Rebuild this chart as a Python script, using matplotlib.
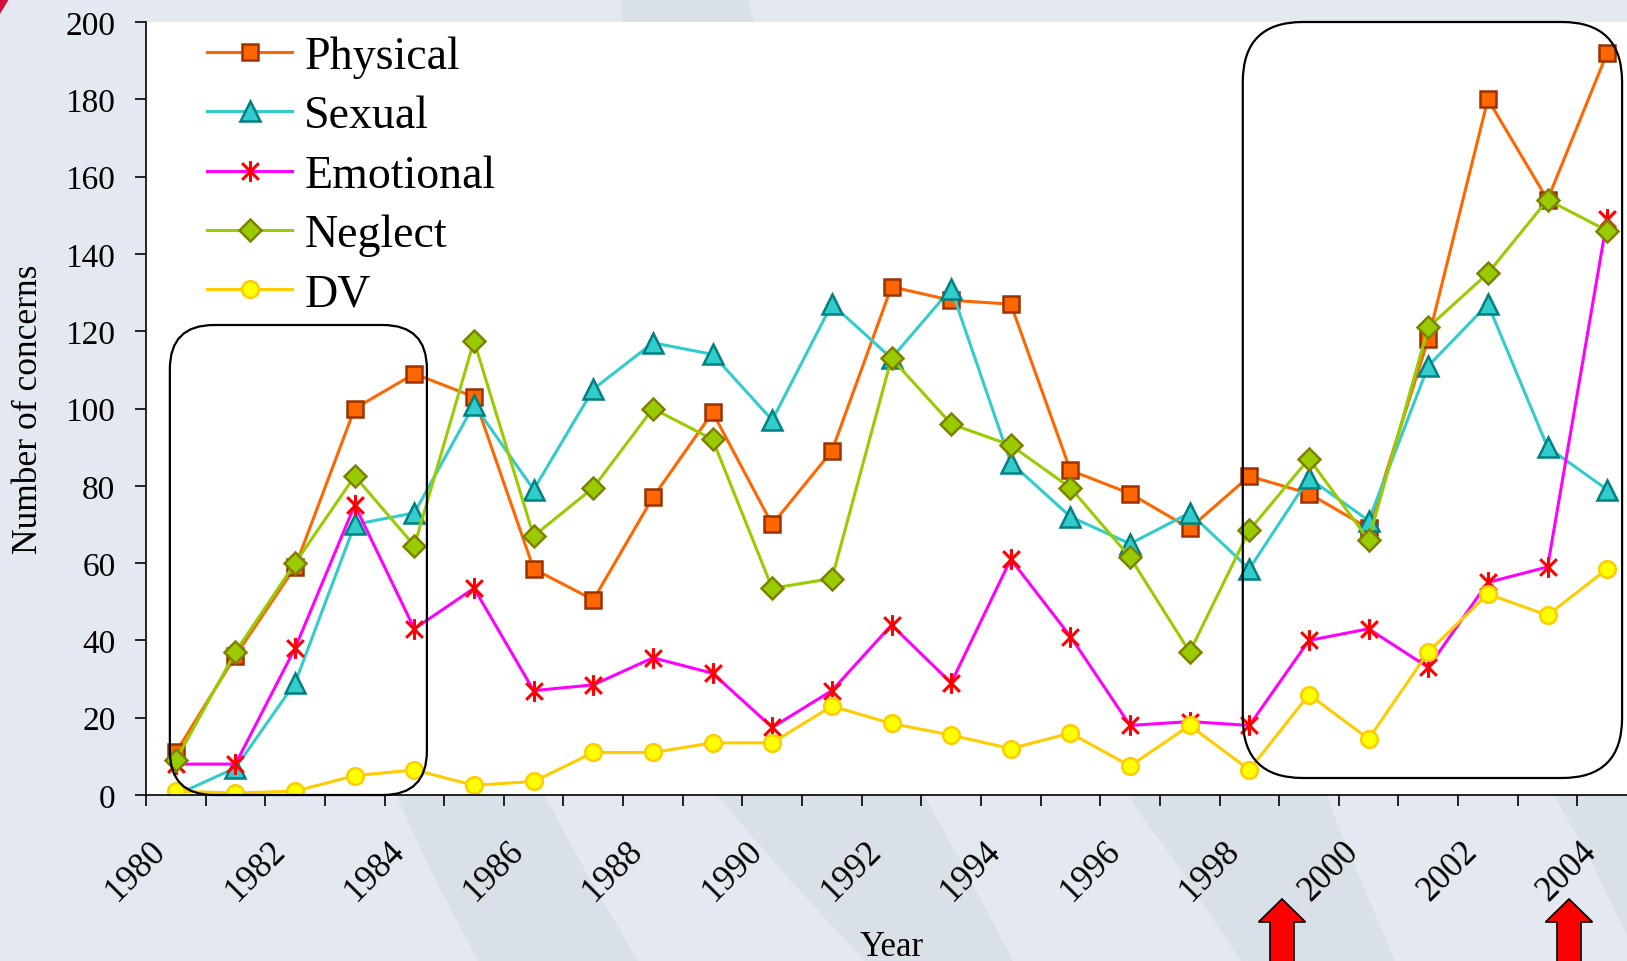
import numpy as np
import matplotlib
matplotlib.use("Agg")
import matplotlib.pyplot as plt
from matplotlib.path import Path
from matplotlib.patches import Polygon, FancyBboxPatch
from matplotlib.transforms import ScaledTranslation

# %%
# Data
years = list(range(1980, 2005))
physical = [11, 36, 59, 100, 109, 103, 58.5, 50.5, 77, 99, 70, 89, 131.5, 128, 127,
            84, 78, 69, 82.5, 78, 69, 118, 180, 154, 192]
sexual = [0, 7, 29, 70, 73, 101, 79, 105, 117, 114, 97, 127, 113, 131, 86,
          72, 65, 73, 58.5, 82, 71, 111, 127, 90, 79]
emotional = [8, 8, 38, 75, 43, 53.5, 27, 28.5, 35.5, 31.5, 17.5, 27, 44, 29, 61,
             41, 18, 19, 18, 40, 43, 33, 55, 59, 149]
neglect = [9, 37, 60, 82.5, 64.5, 117.5, 67, 79.5, 100, 92, 53.5, 56, 113, 96, 90.5,
           79.5, 61.5, 37, 68.5, 87, 66, 121, 135, 154, 146]
dv = [1, 0.5, 1, 5, 6.5, 2.5, 3.5, 11, 11, 13.5, 13.5, 23, 18.5, 15.5, 12,
      16, 7.5, 18, 6.5, 26, 14.5, 37, 52, 46.5, 58.5]

labels = ["Physical", "Sexual", "Emotional", "Neglect", "DV"]
yticks = list(range(0, 201, 20))

# %%
W, H = 1627, 962
plt.rcParams["font.family"] = ["Liberation Serif", "DejaVu Serif"]
fig = plt.figure(figsize=(W / 100, H / 100), dpi=100, facecolor="#e4e9f1")


def px(x, y):
    # pixel (from top-left) -> figure fraction
    return (x / W, 1 - y / H)


# background swooshes of the slide
band = "#d9e0e8"
for pts in [
    [(620, 0), (747, 0), (757, 30), (624, 30)],
    [(396, 796), (544, 796), (590, 880), (638, 962), (478, 962), (430, 870)],
    [(717, 796), (924, 796), (970, 880), (1013, 962), (865, 962), (780, 870)],
    [(1127, 796), (1326, 796), (1360, 880), (1395, 962), (1241, 962), (1180, 870)],
    [(1554, 796), (1627, 796), (1627, 937), (1590, 860)],
]:
    fig.add_artist(Polygon([px(*p) for p in pts], closed=True, transform=fig.transFigure,
                           facecolor=band, edgecolor="none", zorder=-10))
fig.add_artist(Polygon([px(0, 0), px(9, 0), px(0, 15)], closed=True, transform=fig.transFigure,
                       facecolor="#d0103a", edgecolor="none", zorder=-9))

ax = fig.add_axes([146 / W, (H - 796) / H, (1637 - 146) / W, (796 - 23) / H])
ax.set_facecolor("white")

x = np.arange(len(years))

# Excel-like star marker: X plus vertical bar
star = Path([(-1, -1), (1, 1), (-1, 1), (1, -1), (0, -1.25), (0, 1.25)],
            [Path.MOVETO, Path.LINETO, Path.MOVETO, Path.LINETO, Path.MOVETO, Path.LINETO])

lw = 2.2
ax.plot(x, physical, color="#ff6600", lw=lw, marker="s", ms=12, mfc="#ff6600",
        mec="#993300", mew=1.8, label=labels[0])
ax.plot(x, sexual, color="#33cccc", lw=lw, marker="^", ms=14, mfc="#33cccc",
        mec="#008080", mew=1.8, label=labels[1])
ax.plot(x, emotional, color="#ff00ff", lw=lw, marker=star, ms=15, mec="#ff0000",
        mew=2.2, label=labels[2])
ax.plot(x, neglect, color="#99cc00", lw=lw, marker="D", ms=11, mfc="#99cc00",
        mec="#808000", mew=1.8, label=labels[3])
ax.plot(x, dv, color="#ffcc00", lw=lw, marker="o", ms=12, mfc="#ffff00",
        mec="#ffcc00", mew=1.8, label=labels[4])

ax.set_xlim(-0.5, len(years) - 0.5)
ax.set_ylim(0, 200)

for s in ["top", "right"]:
    ax.spines[s].set_visible(False)
for s in ["left", "bottom"]:
    ax.spines[s].set_linewidth(1.2)

ax.set_yticks(yticks)
ax.tick_params(axis="y", labelsize=24, length=8, width=1.2, pad=14)

# ticks between categories, labels every second year
ax.set_xticks(np.arange(-0.5, len(years), 1))
ax.set_xticklabels([])
ax.tick_params(axis="x", which="major", length=8, width=1.2)
ax.set_xticks(x[::2], minor=True)
ax.set_xticklabels([str(y) for y in years[::2]], minor=True)
ax.tick_params(axis="x", which="minor", length=0, labelsize=25, pad=28)
shift = ScaledTranslation(-0.27, 0, fig.dpi_scale_trans)
for lab in ax.get_xticklabels(minor=True):
    lab.set_rotation(45)
    lab.set_rotation_mode("anchor")
    lab.set_ha("right")
    lab.set_va("top")
    lab.set_transform(lab.get_transform() + shift)

ax.set_ylabel("Number of concerns", fontsize=25.5, va="center")
ax.yaxis.set_label_coords(-0.079, 0.5)
ax.set_xlabel("Year", fontsize=25, va="center")
ax.xaxis.set_label_coords(0.5, -0.196)

ax.legend(loc="upper left", bbox_to_anchor=(0.041, 0.983), frameon=False, fontsize=33,
          borderpad=0, borderaxespad=0, labelspacing=0.37, handlelength=1.85,
          handletextpad=0.27)


# rounded boxes around highlighted periods (data coords -> inches)
def rounded_box(x0, y0, x1, y1, r):
    (a, b), (c, d) = ax.transData.transform([(x0, y0), (x1, y1)]) / fig.dpi
    fig.add_artist(FancyBboxPatch((a + r, b + r), c - a - 2 * r, d - b - 2 * r,
                                  boxstyle=f"round,pad={r},rounding_size={r}",
                                  transform=fig.dpi_scale_trans, fill=False,
                                  ec="black", lw=1.6, zorder=5))


rounded_box(-0.1, 0, 4.21, 121.6, 0.44)
rounded_box(17.89, 4.4, 24.25, 200, 0.6)


# red arrows under the axis
def arrow(cx):
    pts = [(cx, 900), (cx + 23.5, 923), (cx + 12, 923), (cx + 12, 970),
           (cx - 12, 970), (cx - 12, 923), (cx - 23.5, 923)]
    fig.add_artist(Polygon([px(*p) for p in pts], closed=True, transform=fig.transFigure,
                           facecolor="#ff0000", edgecolor="black", lw=1.2, zorder=6))


arrow(1282)
arrow(1569)

fig.savefig("out.png", dpi=100, facecolor=fig.get_facecolor())
